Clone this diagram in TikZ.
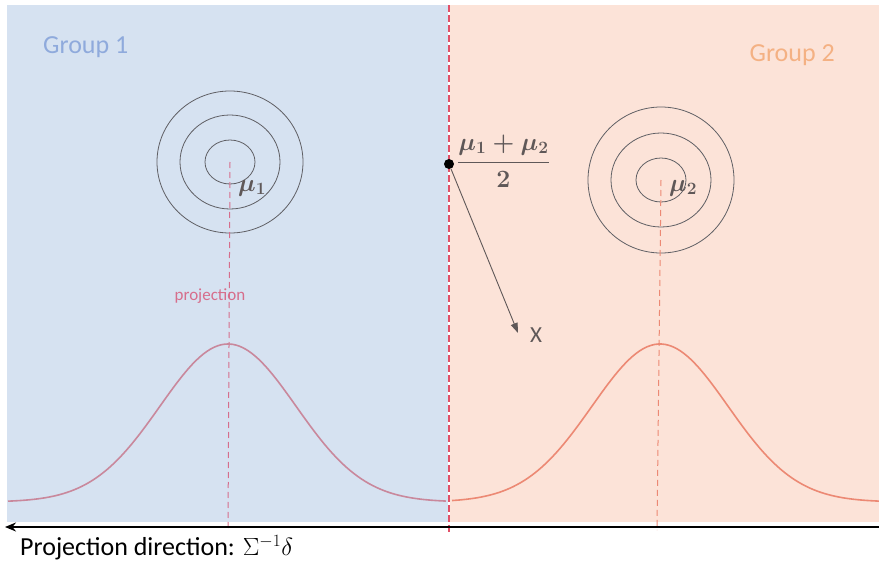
\documentclass[tikz,border=0pt]{standalone}
\usepackage{amsmath}
\usepackage{fontspec}
\setmainfont{Carlito}
\usepackage{tikz}
\usetikzlibrary{arrows.meta,positioning}

\definecolor{bgone}{RGB}{214,226,241}
\definecolor{bgtwo}{RGB}{252,227,216}
\definecolor{txtone}{RGB}{143,170,220}
\definecolor{txttwo}{RGB}{244,177,131}
\definecolor{curveone}{RGB}{201,136,156}
\definecolor{curvetwo}{RGB}{236,137,116}
\definecolor{midred}{RGB}{226,80,104}
\definecolor{projred}{RGB}{214,110,140}
\definecolor{ringgray}{RGB}{95,95,100}
\definecolor{labgray}{RGB}{95,88,88}

\begin{document}
\begin{tikzpicture}[
    x=1pt, y=-1pt,
    grouplab/.style={font=\fontsize{26}{30}\selectfont, inner sep=0},
    ring/.style={draw=ringgray, line width=0.8pt},
    proj/.style={dash pattern=on 6pt off 4pt, line width=1pt},
    bell/.style={line width=1.6pt},
    meanlab/.style={text=labgray, font=\fontsize{27}{30}\selectfont\boldmath, inner sep=0}
  ]
  \useasboundingbox (0,0) rectangle (879,562);
  % the two halves
  \fill[bgone] (7,5) rectangle (449,522);
  \fill[bgtwo] (449,5) rectangle (879,522);
  \node[grouplab, text=txtone, anchor=west] (g1) at (43,47) {Group 1};
  \node[grouplab, text=txttwo, anchor=east] (g2) at (835,55) {Group 2};

  % contours of group 1
  \coordinate (c1) at (230,162);
  \draw[ring] (c1) ellipse[x radius=73, y radius=71];
  \draw[ring] (c1) ellipse[x radius=50, y radius=47];
  \draw[ring] (c1) ellipse[x radius=25, y radius=22];
  \node[meanlab, anchor=west] (m1) at (238,188) {$\mu_1$};

  % contours of group 2
  \coordinate (c2) at (661,180);
  \draw[ring] (c2) ellipse[x radius=73, y radius=73];
  \draw[ring] (c2) ellipse[x radius=50, y radius=47];
  \draw[ring] (c2) ellipse[x radius=25, y radius=22];
  \node[meanlab, anchor=west] (m2) at (669,188) {$\mu_2$};

  % projections
  \coordinate (f1) at (228,530);
  \coordinate (f2) at (657,530);
  \draw[proj, draw=projred] (c1) -- (f1);
  \draw[proj, draw=curvetwo] (c2) -- (f2);
  \node[text=projred, font=\fontsize{17}{19}\selectfont, inner sep=0] (pl) at (210,296) {projection};

  % densities on the projection axis
  \draw[bell, curveone] plot[domain=-220:218, samples=120]
    ({228+\x}, {502-158*exp(-0.5*(\x/68)^2)});
  \draw[bell, curvetwo] plot[domain=-208:222, samples=120]
    ({660+\x}, {502-158*exp(-0.5*(\x/68)^2)});

  % boundary between the groups
  \coordinate (btop) at (449,5);
  \coordinate (bbot) at (449,534);
  \draw[white, line width=1.2pt] (btop) -- (bbot);
  \draw[midred, dash pattern=on 7pt off 3pt, line width=1.2pt] (btop) -- (bbot);

  % midpoint and a new observation
  \node[circle, fill=black, inner sep=0, minimum size=10pt] (mid) at (449,164) {};
  \node[meanlab, anchor=west] (fr) at (457,161) {$\dfrac{\mu_1+\mu_2}{2}$};
  \node[text=labgray, font=\fontsize{23}{26}\selectfont, inner sep=0] (xobs) at (536,335) {X};
  \coordinate (xend) at (518,333);
  \draw[labgray, line width=0.9pt, -{Triangle[length=10pt, width=7pt]}] (mid) -- (xend);

  % projection axis
  \coordinate (aright) at (879,527);
  \coordinate (aleft) at (5,527);
  \draw[line width=2.6pt, -{Stealth[length=11pt, width=9pt]}] (aright) -- (aleft);
  \node[anchor=west, font=\fontsize{26}{30}\selectfont, inner sep=0] (axl) at (20,548)
    {Projection direction: $\Sigma^{-1}\delta$};
\end{tikzpicture}
\end{document}
